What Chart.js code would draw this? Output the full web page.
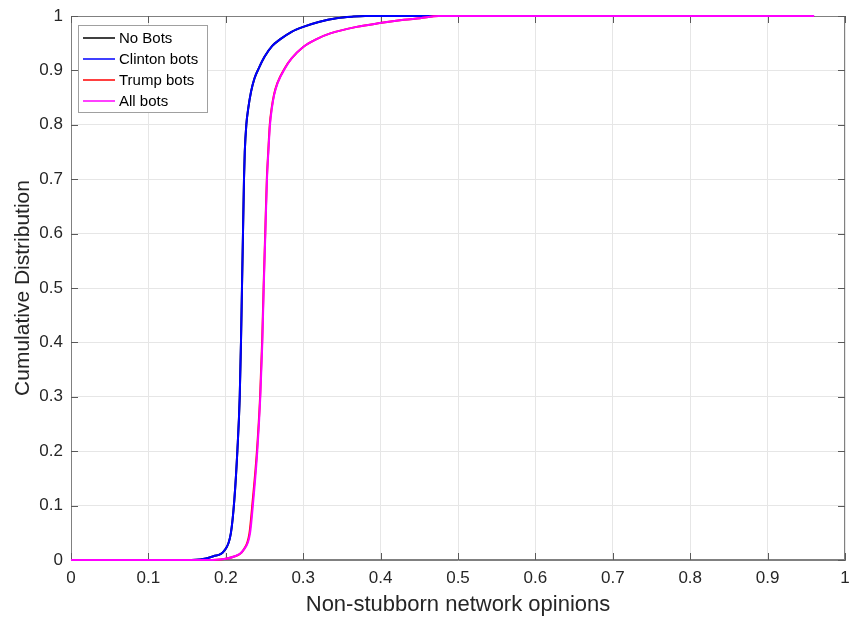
<!DOCTYPE html>
<html>
<head>
<meta charset="utf-8">
<script src="https://cdn.jsdelivr.net/npm/chart.js@4/dist/chart.umd.min.js"></script>
<style>
  html, body { margin: 0; padding: 0; background: #fff; }
  #wrap { width: 849px; height: 618px; }
</style>
</head>
<body>
<div id="wrap"><canvas id="myChart" width="849" height="618"></canvas></div>
<script>
// series labels and colours
const seriesNames = ['No Bots', 'Clinton bots', 'Trump bots', 'All bots'];
const seriesColors = ['#000000', '#0000ff', '#ff0000', '#ff00ff'];

// CDF readings (opinion value, cumulative fraction)
const noBotsX = [0, 0.14, 0.167, 0.184, 0.198, 0.2065, 0.211, 0.215, 0.218, 0.2196, 0.2209, 0.2222, 0.2235, 0.2245, 0.2265, 0.229, 0.2325, 0.237, 0.243, 0.25, 0.26, 0.27, 0.285, 0.3, 0.32, 0.343, 0.365, 0.38, 0.96];
const noBotsY = [0, 0, 0.001, 0.007, 0.017, 0.049, 0.11, 0.202, 0.3, 0.4, 0.5, 0.6, 0.7, 0.75, 0.8, 0.83, 0.86, 0.885, 0.905, 0.925, 0.945, 0.957, 0.971, 0.98, 0.989, 0.996, 0.999, 1, 1];
const clintonX = [0, 0.14, 0.167, 0.184, 0.198, 0.2065, 0.211, 0.215, 0.218, 0.2196, 0.2209, 0.2222, 0.2235, 0.2245, 0.2265, 0.229, 0.2325, 0.237, 0.243, 0.25, 0.26, 0.27, 0.285, 0.3, 0.32, 0.343, 0.365, 0.38, 0.96];
const clintonY = [0, 0, 0.001, 0.007, 0.017, 0.049, 0.11, 0.202, 0.3, 0.4, 0.5, 0.6, 0.7, 0.75, 0.8, 0.83, 0.86, 0.885, 0.905, 0.925, 0.945, 0.957, 0.971, 0.98, 0.989, 0.996, 0.999, 1, 1];
const trumpX = [0, 0.17, 0.1925, 0.2097, 0.2226, 0.2305, 0.2348, 0.2402, 0.2443, 0.2469, 0.2488, 0.2509, 0.253, 0.2548, 0.2568, 0.2592, 0.2622, 0.2667, 0.2762, 0.285, 0.3, 0.318, 0.335, 0.369, 0.399, 0.43, 0.451, 0.475, 0.96];
const trumpY = [0, 0, 0.001, 0.006, 0.018, 0.049, 0.11, 0.2, 0.3, 0.4, 0.5, 0.6, 0.7, 0.75, 0.8, 0.83, 0.855, 0.877, 0.904, 0.922, 0.943, 0.958, 0.968, 0.98, 0.987, 0.993, 0.996, 1, 1];
const allBotsX = [0, 0.17, 0.1925, 0.2097, 0.2226, 0.2313, 0.2356, 0.2407, 0.2446, 0.2472, 0.249, 0.2511, 0.2532, 0.255, 0.2571, 0.2595, 0.2625, 0.267, 0.2765, 0.285, 0.3, 0.318, 0.335, 0.369, 0.399, 0.43, 0.451, 0.475, 0.96];
const allBotsY = [0, 0, 0.001, 0.006, 0.018, 0.049, 0.11, 0.2, 0.3, 0.4, 0.5, 0.6, 0.7, 0.75, 0.8, 0.83, 0.855, 0.877, 0.904, 0.922, 0.943, 0.958, 0.968, 0.98, 0.987, 0.993, 0.996, 1, 1];

// tick labels
const xTicks = [0, 0.1, 0.2, 0.3, 0.4, 0.5, 0.6, 0.7, 0.8, 0.9, 1];
const yTicks = [0, 0.1, 0.2, 0.3, 0.4, 0.5, 0.6, 0.7, 0.8, 0.9, 1];

const FONT = "'Liberation Sans', Arial, Helvetica, sans-serif";

function toPoints(xs, ys) {
  return xs.map((x, i) => ({ x: x, y: ys[i] }));
}

const allSeries = [
  toPoints(noBotsX, noBotsY),
  toPoints(clintonX, clintonY),
  toPoints(trumpX, trumpY),
  toPoints(allBotsX, allBotsY)
];

// MATLAB-like box with inward tick marks, drawn under the lines
const axesBox = {
  id: 'axesBox',
  beforeDatasetsDraw(chart) {
    const { ctx, chartArea: a, scales } = chart;
    ctx.save();
    ctx.strokeStyle = '#808080';
    ctx.lineWidth = 1;
    ctx.strokeRect(a.left + 0.5, a.top + 0.5, a.right - a.left - 1, a.bottom - a.top - 1);
    ctx.strokeStyle = '#5a5a5a';
    const len = 7;
    ctx.beginPath();
    xTicks.forEach(v => {
      const px = Math.round(scales.x.getPixelForValue(v)) + 0.5;
      ctx.moveTo(px, a.bottom); ctx.lineTo(px, a.bottom - len);
      ctx.moveTo(px, a.top); ctx.lineTo(px, a.top + len);
    });
    yTicks.forEach(v => {
      const py = Math.round(scales.y.getPixelForValue(v)) + 0.5;
      ctx.moveTo(a.left, py); ctx.lineTo(a.left + len, py);
      ctx.moveTo(a.right, py); ctx.lineTo(a.right - len, py);
    });
    ctx.stroke();
    ctx.restore();
  }
};

// legend box drawn inside the plot, top-left
const insideLegend = {
  id: 'insideLegend',
  afterDraw(chart) {
    const { ctx, chartArea: a } = chart;
    const x0 = a.left + 7, y0 = a.top + 9, w = 129, h = 87;
    ctx.save();
    ctx.fillStyle = '#ffffff';
    ctx.fillRect(x0, y0, w, h);
    ctx.strokeStyle = '#a0a0a0';
    ctx.lineWidth = 1;
    ctx.strokeRect(x0 + 0.5, y0 + 0.5, w, h);
    ctx.font = '15px ' + FONT;
    ctx.textBaseline = 'middle';
    chart.data.datasets.forEach((ds, i) => {
      const yy = y0 + 13 + i * 21;
      ctx.strokeStyle = ds.borderColor;
      ctx.lineWidth = 1.5;
      ctx.beginPath();
      ctx.moveTo(x0 + 5, yy);
      ctx.lineTo(x0 + 37, yy);
      ctx.stroke();
      ctx.fillStyle = '#000000';
      ctx.fillText(ds.label, x0 + 41, yy + 1);
    });
    ctx.restore();
  }
};

const ctx = document.getElementById('myChart').getContext('2d');
const chart = new Chart(ctx, {
  type: 'scatter',
  data: {
    datasets: seriesNames.map((name, i) => ({
      label: name,
      data: allSeries[i],
      showLine: true,
      borderColor: seriesColors[i],
      backgroundColor: seriesColors[i],
      borderWidth: 2,
      pointRadius: 0,
      cubicInterpolationMode: 'monotone',
      clip: 4,
      order: 3 - i
    }))
  },
  options: {
    responsive: false,
    animation: false,
    layout: { padding: { top: 16, right: 4, left: 0, bottom: 0 } },
    plugins: {
      legend: { display: false },
      tooltip: { enabled: false }
    },
    scales: {
      x: {
        type: 'linear',
        min: 0,
        max: 1,
        afterBuildTicks: s => { s.ticks = xTicks.map(v => ({ value: v })); },
        afterFit: s => { s.height = 58; s.paddingLeft = 0; s.paddingRight = 0; },
        grid: { color: '#e6e6e6', drawTicks: false },
        border: { color: '#808080' },
        ticks: {
          padding: 8,
          color: '#262626',
          font: { family: FONT, size: 17 },
          maxRotation: 0,
          callback: v => String(v)
        },
        title: {
          display: true,
          text: 'Non-stubborn network opinions',
          color: '#262626',
          font: { family: FONT, size: 22 },
          padding: { top: 0, bottom: 0 }
        }
      },
      y: {
        type: 'linear',
        min: 0,
        max: 1,
        afterBuildTicks: s => { s.ticks = yTicks.map(v => ({ value: v })); },
        afterFit: s => { s.width = 71; s.paddingTop = 0; s.paddingBottom = 0; },
        grid: { color: '#e6e6e6', drawTicks: false },
        border: { color: '#808080' },
        ticks: {
          padding: 8,
          color: '#262626',
          font: { family: FONT, size: 17 },
          callback: v => String(v)
        },
        title: {
          display: true,
          text: 'Cumulative Distribution',
          color: '#262626',
          font: { family: FONT, size: 21 },
          padding: { top: 11, bottom: 0 }
        }
      }
    }
  },
  plugins: [axesBox, insideLegend]
});
</script>
</body>
</html>
